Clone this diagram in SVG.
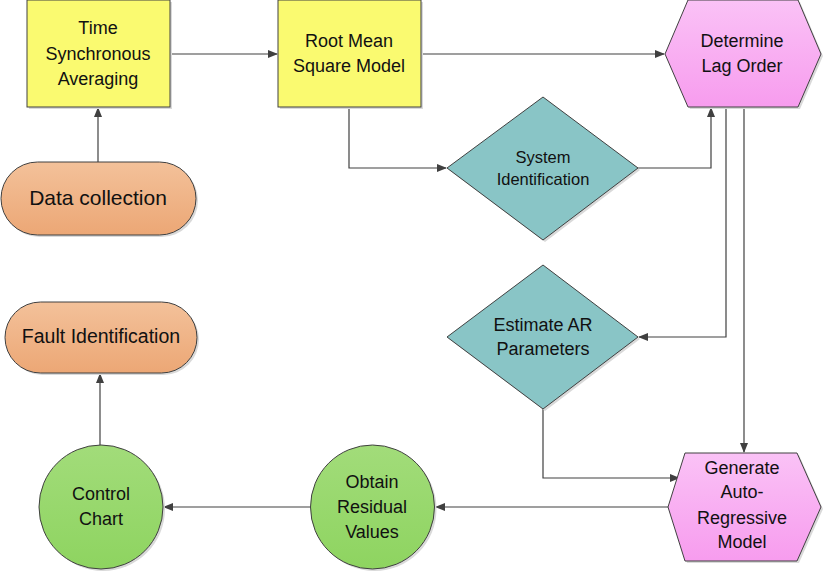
<svg xmlns="http://www.w3.org/2000/svg" width="823" height="572" viewBox="0 0 823 572">
<style>
.s{stroke:#404040;stroke-width:1}
.t{font-family:"Liberation Sans",Arial,sans-serif;font-size:18px;fill:#111;text-anchor:middle}
.c{fill:none;stroke:#404040;stroke-width:1.2}
.sh{fill:#d9d9d9}
</style>
<defs>
<marker id="a" markerWidth="10" markerHeight="10" refX="9" refY="5" orient="auto" markerUnits="userSpaceOnUse">
<path d="M0,1 L10,5 L0,9 Z" fill="#404040"/>
</marker>
<linearGradient id="go" x1="0" y1="0" x2="0" y2="1"><stop offset="0" stop-color="#F3C19A"/><stop offset="1" stop-color="#ECA775"/></linearGradient>
<linearGradient id="gp" x1="0" y1="0" x2="0" y2="1"><stop offset="0" stop-color="#FAC2F6"/><stop offset="1" stop-color="#F79CEE"/></linearGradient>
<linearGradient id="gg" x1="0" y1="0" x2="0" y2="1"><stop offset="0" stop-color="#A2DC7A"/><stop offset="1" stop-color="#8ED460"/></linearGradient>
</defs>
<rect width="823" height="572" fill="#fff"/>

<g id="connectors">
<path class="c" d="M170,54 H277" marker-end="url(#a)"/>
<path class="c" d="M98,162 V108" marker-end="url(#a)"/>
<path class="c" d="M422,54 H664" marker-end="url(#a)"/>
<path class="c" d="M349,107 V168 H446" marker-end="url(#a)"/>
<path class="c" d="M638,168 H711 V108" marker-end="url(#a)"/>
<path class="c" d="M726,107 V337 H639" marker-end="url(#a)"/>
<path class="c" d="M744,107 V452" marker-end="url(#a)"/>
<path class="c" d="M543,409 V478 H679" marker-end="url(#a)"/>
<path class="c" d="M668,507 H436" marker-end="url(#a)"/>
<path class="c" d="M310,507 H164" marker-end="url(#a)"/>
<path class="c" d="M100,445 V374" marker-end="url(#a)"/>
</g>

<g id="tsa">
<rect class="sh" x="29" y="2" width="143" height="107"/>
<rect class="s" x="27" y="0" width="143" height="107" fill="#FAFA70"/>
<text class="t" x="98" y="34">Time</text>
<text class="t" x="98" y="60">Synchronous</text>
<text class="t" x="98" y="85">Averaging</text>
</g>

<g id="rms">
<rect class="sh" x="280" y="2" width="143" height="107"/>
<rect class="s" x="278" y="0" width="143" height="107" fill="#FAFA70"/>
<text class="t" x="349" y="47">Root Mean</text>
<text class="t" x="349" y="72">Square Model</text>
</g>

<g id="datacollection">
<rect class="sh" x="3" y="164" width="195" height="73" rx="36.5"/>
<rect class="s" x="1" y="162" width="195" height="73" rx="36.5" fill="url(#go)"/>
<text class="t" x="98" y="205" style="font-size:21px">Data collection</text>
</g>

<g id="determine">
<polygon class="sh" points="667,56 690,2 800,2 823,56 800,109 690,109"/>
<polygon class="s" points="665,54 688,0 798,0 821,54 798,107 688,107" fill="url(#gp)"/>
<text class="t" x="742" y="47">Determine</text>
<text class="t" x="742" y="72">Lag Order</text>
</g>

<g id="sysid">
<polygon class="sh" points="449,170 545,99 640,170 545,242"/>
<polygon class="s" points="447,168 543,97 638,168 543,240" fill="#89C5C6"/>
<text class="t" x="543" y="163" style="font-size:16.5px">System</text>
<text class="t" x="543" y="185" style="font-size:16.5px">Identification</text>
</g>

<g id="estimate">
<polygon class="sh" points="449,339 545,267 640,339 545,411"/>
<polygon class="s" points="447,337 543,265 638,337 543,409" fill="#89C5C6"/>
<text class="t" x="543" y="331">Estimate AR</text>
<text class="t" x="543" y="355">Parameters</text>
</g>

<g id="generate">
<polygon class="sh" points="670,509 687,455 799,455 823,509 799,563 687,563"/>
<polygon class="s" points="668,507 685,453 797,453 821,507 797,561 685,561" fill="url(#gp)"/>
<text class="t" x="742" y="474">Generate</text>
<text class="t" x="742" y="498">Auto-</text>
<text class="t" x="742" y="524">Regressive</text>
<text class="t" x="742" y="548">Model</text>
</g>

<g id="obtain">
<circle class="sh" cx="374.5" cy="509" r="62"/>
<circle class="s" cx="372.5" cy="507" r="62" fill="url(#gg)"/>
<text class="t" x="372" y="488">Obtain</text>
<text class="t" x="372" y="513">Residual</text>
<text class="t" x="372" y="538">Values</text>
</g>

<g id="controlchart">
<circle class="sh" cx="103" cy="509" r="62"/>
<circle class="s" cx="101" cy="507" r="62" fill="url(#gg)"/>
<text class="t" x="101" y="500">Control</text>
<text class="t" x="101" y="525">Chart</text>
</g>

<g id="fault">
<rect class="sh" x="7" y="304" width="192" height="71" rx="35.5"/>
<rect class="s" x="5" y="302" width="192" height="71" rx="35.5" fill="url(#go)"/>
<text class="t" x="101" y="343" style="font-size:19.5px">Fault Identification</text>
</g>
</svg>
